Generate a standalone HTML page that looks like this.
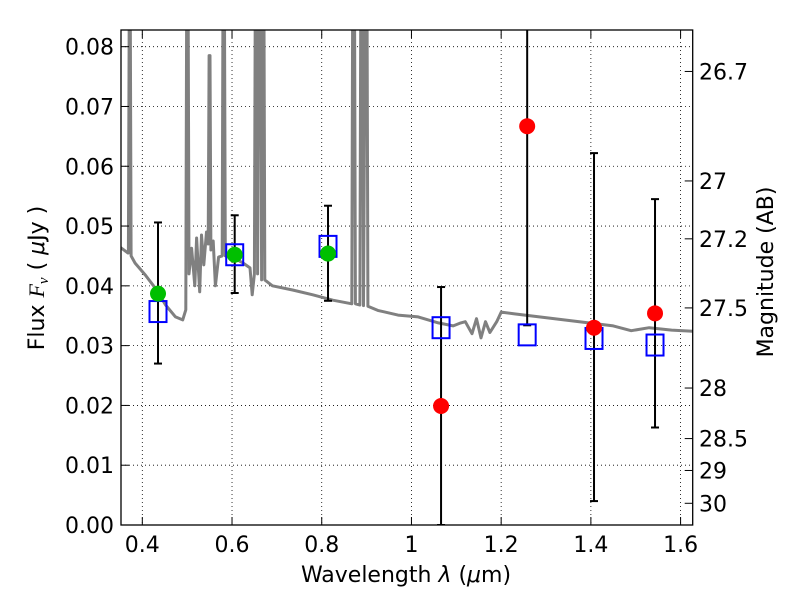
<!DOCTYPE html>
<html><head><meta charset="utf-8"><style>
body{margin:0;background:#fff;}
svg{display:block;font-family:"DejaVu Sans","Liberation Sans",sans-serif;}
</style></head><body>
<svg id="chart" width="800" height="600" xmlns="http://www.w3.org/2000/svg">
<defs><clipPath id="plotclip"><rect x="121" y="30" width="571.7" height="495"/></clipPath></defs>
<rect x="0" y="0" width="800" height="600" fill="#fff"/>
<g id="grid"></g>
<g id="marks" clip-path="url(#plotclip)"></g>
<rect x="121" y="30" width="571.7" height="495" fill="none" stroke="#000" stroke-width="1.3"/>
<g id="axes"></g>
<text x="406" y="582" text-anchor="middle" font-size="22">Wavelength  <tspan font-style="italic">λ</tspan> (<tspan font-style="italic">μ</tspan>m)</text>
<text transform="translate(44,278) rotate(-90)" text-anchor="middle" font-size="22">Flux  <tspan font-style="italic" font-family="Liberation Serif, serif">F<tspan font-size="15" dy="4">ν</tspan></tspan><tspan dy="-4">  (  </tspan><tspan font-style="italic">μ</tspan>Jy )</text>
<text transform="translate(773,272) rotate(-90)" text-anchor="middle" font-size="22">Magnitude (AB)</text>
</svg>
<script>
const xTicks=[0.4,0.6,0.8,1,1.2,1.4,1.6];
const xTickLabels=["0.4","0.6","0.8","1","1.2","1.4","1.6"];
const yTicks=[0,0.01,0.02,0.03,0.04,0.05,0.06,0.07,0.08];
const yTickLabels=["0.00","0.01","0.02","0.03","0.04","0.05","0.06","0.07","0.08"];
const magTickLabels=["26.7","27","27.2","27.5","28","28.5","29","30"];
const magTickValues=[26.7,27,27.2,27.5,28,28.5,29,30];
const greenLam=[0.435,0.606,0.814];
const greenFlux=[0.0387,0.0452,0.0454];
const greenLo=[0.0270,0.0388,0.0375];
const greenHi=[0.0506,0.0518,0.0534];
const redLam=[1.066,1.258,1.407,1.543];
const redFlux=[0.0199,0.0667,0.0330,0.0354];
const redLo=[0.0,0.0334,0.0040,0.0163];
const redHi=[0.0398,0.1000,0.0622,0.0545];
const modelLam=[0.435,0.606,0.814,1.066,1.258,1.407,1.543];
const modelFlux=[0.0357,0.0452,0.0466,0.0330,0.0318,0.0312,0.0301];
const specLam=[0.350,0.368,0.369,0.371,0.373,0.375,0.384,0.407,0.430,0.452,0.474,0.490,0.497,0.499,0.502,0.504,0.510,0.517,0.521,0.528,0.532,0.537,0.543,0.547,0.549,0.551,0.553,0.558,0.563,0.570,0.578,0.580,0.583,0.585,0.600,0.625,0.640,0.645,0.650,0.652,0.656,0.657,0.660,0.664,0.666,0.668,0.671,0.673,0.690,0.735,0.780,0.825,0.860,0.867,0.869,0.873,0.875,0.885,0.887,0.891,0.893,0.897,0.901,0.903,0.925,0.970,1.015,1.060,1.093,1.110,1.120,1.135,1.145,1.155,1.165,1.175,1.190,1.200,1.230,1.340,1.450,1.490,1.530,1.580,1.627];
const specFlux=[0.0465,0.0455,0.0455,0.09,0.09,0.045,0.0438,0.0418,0.0395,0.0368,0.0348,0.0343,0.036,0.09,0.09,0.042,0.0463,0.040,0.048,0.039,0.0485,0.0435,0.049,0.047,0.0785,0.0785,0.046,0.0475,0.040,0.0448,0.045,0.09,0.09,0.045,0.0448,0.0438,0.0430,0.0385,0.042,0.09,0.09,0.042,0.09,0.09,0.041,0.09,0.09,0.041,0.0400,0.0393,0.0385,0.0376,0.0371,0.037,0.09,0.09,0.037,0.0368,0.09,0.09,0.0367,0.09,0.09,0.0366,0.0359,0.0351,0.0348,0.0338,0.0333,0.0338,0.034,0.0320,0.0345,0.0313,0.034,0.0322,0.034,0.0356,0.0353,0.0343,0.0333,0.0325,0.0330,0.0326,0.0324];

const X0=121,X1=692.7,LMIN=0.3525,LMAX=1.627;
const Y0=525,YS=5979;
function sx(l){return X0+(l-LMIN)/(LMAX-LMIN)*(X1-X0);}
function sy(f){return Y0-f*YS;}
function magToFlux(m){return Math.pow(10,-0.4*(m-23.9));}
const NS="http://www.w3.org/2000/svg";
function mk(tag,attrs,parent){const e=document.createElementNS(NS,tag);for(const k in attrs)e.setAttribute(k,attrs[k]);parent.appendChild(e);return e;}
const grid=document.getElementById('grid'),marks=document.getElementById('marks'),axes=document.getElementById('axes');

xTicks.forEach((t,i)=>{
  const x=sx(t);
  const g=mk('line',{x1:x,x2:x,y1:30,y2:525,stroke:'#000','stroke-width':0.8,'stroke-dasharray':'1,3'},grid);
  
  
  const tk=mk('line',{x1:x,x2:x,y1:525,y2:517,stroke:'#000','stroke-width':1},axes);
  
  
  const tk2=mk('line',{x1:x,x2:x,y1:30,y2:38,stroke:'#000','stroke-width':1},axes);
  
  
  const tx=mk('text',{x:x,y:552,'text-anchor':'middle','font-size':22},axes);
  tx.textContent=xTickLabels[i];
  
  
});
yTicks.forEach((t,i)=>{
  const y=sy(t);
  if(i>0){
  const g=mk('line',{x1:121,x2:692.7,y1:y,y2:y,stroke:'#000','stroke-width':0.8,'stroke-dasharray':'1,3'},grid);
  
  }
  const tk=mk('line',{x1:121,x2:129,y1:y,y2:y,stroke:'#000','stroke-width':1},axes);
  
  
  const tx=mk('text',{x:114,y:y+8,'text-anchor':'end','font-size':22},axes);
  tx.textContent=yTickLabels[i];
  
  
});
magTickValues.forEach((m,i)=>{
  const y=sy(magToFlux(m));
  const tk=mk('line',{x1:692.7,x2:684.7,y1:y,y2:y,stroke:'#000','stroke-width':1},axes);
  
  
  const tx=mk('text',{x:699,y:y+8,'font-size':22},axes);
  tx.textContent=magTickLabels[i];
  
  
});

let d='';
specLam.forEach((l,i)=>{d+=(i?'L':'M')+sx(l).toFixed(1)+','+sy(specFlux[i]).toFixed(1);});
const sp=mk('path',{d:d,fill:'none',stroke:'#808080','stroke-width':3,'stroke-linejoin':'round'},marks);



function errbar(l,lo,hi,name){
  const x=sx(l);
  const e=mk('line',{x1:x,x2:x,y1:sy(lo),y2:sy(hi),stroke:'#000','stroke-width':2},marks);
  
  
  [lo,hi].forEach(v=>{
    const c=mk('line',{x1:x-4,x2:x+4,y1:sy(v),y2:sy(v),stroke:'#000','stroke-width':2},marks);
    
    
  });
}
greenLam.forEach((l,i)=>errbar(l,greenLo[i],greenHi[i],'green-error-bar'));
redLam.forEach((l,i)=>errbar(l,redLo[i],redHi[i],'red-error-bar'));

modelLam.forEach((l,i)=>{
  const r=mk('rect',{x:sx(l)-8.5,y:sy(modelFlux[i])-10.5,width:17,height:21,fill:'none',stroke:'#0000ff','stroke-width':2},marks);
  
  
});
greenLam.forEach((l,i)=>{
  const c=mk('circle',{cx:sx(l),cy:sy(greenFlux[i]),r:8,fill:'#00bf00'},marks);
  
  
});
redLam.forEach((l,i)=>{
  const c=mk('circle',{cx:sx(l),cy:sy(redFlux[i]),r:8,fill:'#ff0000'},marks);
  
  
});
</script>
</body></html>
